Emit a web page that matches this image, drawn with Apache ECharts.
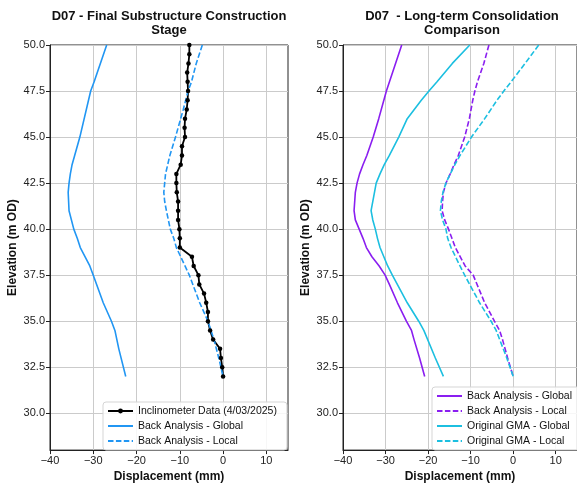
<!DOCTYPE html>
<html>
<head>
<meta charset="utf-8">
<script src="https://cdn.jsdelivr.net/npm/echarts@6/dist/echarts.min.js"></script>
<style>html,body{margin:0;padding:0;background:#fff}#c{width:577px;height:488px}</style>
</head>
<body>
<div id="c"></div>
<script>
// ---- Data (displacement in mm, elevation in m OD) ----
var yTicks = [30, 32.5, 35, 37.5, 40, 42.5, 45, 47.5, 50];
var xTicks = [-40, -30, -20, -10, 0, 10];

// Left panel: Final Substructure Construction Stage
var incElev = [50, 49.5, 49, 48.5, 48, 47.5, 47, 46.5, 46, 45.5, 45, 44.5, 44, 43.5, 43, 42.5, 42, 41.5, 41, 40.5, 40, 39.5, 39, 38.5, 38, 37.5, 37, 36.5, 36, 35.5, 35, 34.5, 34, 33.5, 33, 32.5, 32];
var incDisp = [-7.8, -7.8, -8.0, -8.3, -8.2, -8.1, -8.2, -8.4, -8.8, -8.9, -8.8, -9.5, -9.5, -9.8, -10.8, -10.8, -10.7, -10.4, -10.4, -10.4, -10.1, -10.0, -10.0, -7.2, -6.8, -5.7, -5.5, -4.4, -3.9, -3.5, -3.5, -3.0, -2.3, -0.7, -0.5, -0.2, 0.0];

var leftGlobalElev = [50, 48, 47.5, 45, 44, 43.5, 43, 42.5, 42, 41, 40, 39.5, 39, 38, 37.5, 36, 35, 34.5, 33.5, 32];
var leftGlobalDisp = [-26.9, -29.8, -30.6, -33.1, -34.3, -34.9, -35.3, -35.6, -35.8, -35.6, -34.5, -33.7, -33.0, -30.8, -30.0, -27.7, -25.8, -25.0, -24.1, -22.5];

var leftLocalElev = [50, 49, 48, 47.5, 46.5, 45, 44, 43.5, 43, 42.5, 42, 41.5, 41, 40, 39.5, 39, 38, 37.5, 36, 35, 34, 33, 32];
var leftLocalDisp = [-4.8, -6.2, -7.3, -8.1, -9.2, -11.0, -12.3, -12.8, -13.3, -13.5, -13.7, -13.5, -13.1, -12.2, -11.4, -10.8, -8.8, -7.8, -5.4, -3.5, -2.1, -1.0, 0.0];

// Right panel: Long-term Consolidation Comparison
var baGlobalElev = [50, 47.5, 46, 45, 44, 43.5, 43, 42.5, 42, 41, 40.5, 40, 39.5, 39, 38.5, 38, 37.5, 37, 36, 35, 34.5, 34, 33, 32];
var baGlobalDisp = [-26.2, -29.8, -31.6, -32.9, -34.4, -35.3, -36.1, -36.7, -37.1, -37.4, -37.1, -36.2, -35.3, -34.5, -33.2, -31.5, -30.1, -29.1, -27.2, -25.1, -23.9, -23.3, -22.0, -20.8];

var baLocalElev = [50, 49, 48, 47.5, 47, 46, 45, 44, 43.5, 43, 42.5, 42, 41.5, 41, 40.5, 40, 39.5, 39, 38, 37.5, 36, 35, 34.5, 34, 33, 32];
var baLocalDisp = [-5.7, -6.9, -8.4, -9.0, -9.5, -10.3, -11.4, -12.9, -13.9, -14.8, -15.8, -16.4, -16.6, -16.7, -16.1, -15.2, -14.4, -13.6, -11.3, -9.4, -6.7, -4.4, -3.2, -2.5, -1.3, 0.0];

var gmaGlobalElev = [50, 49, 48, 47.5, 47, 46, 45, 44, 43.5, 43, 42.5, 42, 41, 40.5, 40, 39.5, 39, 38, 37.5, 36, 35, 34.5, 33, 32];
var gmaGlobalDisp = [-10.2, -14.3, -17.9, -19.8, -21.6, -24.9, -26.9, -29.1, -30.3, -31.3, -32.2, -32.6, -33.4, -33.0, -32.4, -31.9, -31.3, -29.5, -28.4, -24.9, -22.2, -21.0, -18.3, -16.4];

var gmaLocalElev = [50, 49, 48, 47.5, 47, 46, 45, 44, 43.5, 43, 42.5, 42, 41.5, 41, 40.5, 40, 39.5, 39, 38, 37.5, 36, 35, 34.5, 33, 32];
var gmaLocalDisp = [6.0, 2.8, -0.5, -2.2, -3.8, -6.7, -9.8, -12.5, -13.7, -14.8, -15.8, -16.5, -16.9, -17.1, -16.6, -15.8, -15.4, -14.6, -12.5, -11.4, -7.9, -5.2, -4.0, -1.5, 0.0];

var titles = ['D07 - Final Substructure Construction\nStage', 'D07  - Long-term Consolidation\nComparison'];
var xName = 'Displacement (mm)';
var yName = 'Elevation (m OD)';

// ---- Styling ----
var FONT = 'Liberation Sans, Arial, Helvetica, sans-serif';
var BLUE = '#2196f3';
var PURPLE = '#8a1ef0';
var CYAN = '#1cbfe0';
var DASH = [5.5, 2.4];

function pairs(xs, ys) { return xs.map(function (x, i) { return [x, ys[i]]; }); }

function xAxis(gi) {
  return {
    type: 'value', gridIndex: gi, min: -40, max: 15, interval: 10,
    name: xName, nameLocation: 'middle', nameGap: 19,
    nameTextStyle: { fontFamily: FONT, fontWeight: 'bold', fontSize: 12, color: '#111' },
    axisLine: { show: true, onZero: false, lineStyle: { color: '#222', width: 1 } },
    axisTick: { show: true, length: 4, customValues: xTicks, lineStyle: { color: '#222' } },
    axisLabel: { customValues: xTicks, fontFamily: FONT, fontSize: 11, color: '#222', margin: 5,
      formatter: function (v) {
        var n = Number(v);
        if (!(n <= xTicks[xTicks.length - 1] + 0.01)) return '';
        return n < 0 ? '\u2212' + Math.abs(n) : String(n);
      } },
    splitLine: { show: true, lineStyle: { color: '#cbcbcb', width: 1 } }
  };
}
function yAxis(gi) {
  return {
    type: 'value', gridIndex: gi, min: 28, max: 50,
    name: yName, nameLocation: 'middle', nameGap: 31, nameRotate: 90,
    nameTextStyle: { fontFamily: FONT, fontWeight: 'bold', fontSize: 12, color: '#111' },
    axisLine: { show: true, onZero: false, lineStyle: { color: '#222', width: 1 } },
    axisTick: { show: true, length: 4, customValues: yTicks, lineStyle: { color: '#222' } },
    axisLabel: { customValues: yTicks, fontFamily: FONT, fontSize: 11, color: '#222', margin: 5,
      formatter: function (v) { var n = Number(v); return n < 29.9 ? '' : n.toFixed(1); } },
    splitLine: { show: true, lineStyle: { color: '#cbcbcb', width: 1 } }
  };
}
function line(name, gi, data, color, dashed, extra) {
  var s = {
    name: name, type: 'line', xAxisIndex: gi, yAxisIndex: gi, data: data,
    showSymbol: false, symbol: 'none', smooth: false, animation: false,
    lineStyle: { color: color, width: 1.6, type: dashed ? DASH : 'solid' },
    itemStyle: { color: color }
  };
  if (extra) for (var k in extra) s[k] = extra[k];
  return s;
}
function plainItem(name) { return { name: name, itemStyle: { opacity: 0 } }; }
function legendBase(left, top, padRight, items) {
  return {
    left: left, top: top, orient: 'vertical', selectedMode: false,
    data: items,
    itemWidth: 25, itemHeight: 6, itemGap: 3, padding: [3, padRight, 3, 4],
    borderColor: '#d5d5d5', borderWidth: 1, borderRadius: 3, backgroundColor: 'rgba(255,255,255,0.85)',
    textStyle: { fontFamily: FONT, fontSize: 10.5, color: '#111', lineHeight: 12 }
  };
}

var chart = echarts.init(document.getElementById('c'), null, { renderer: 'canvas' });
chart.setOption({
  animation: false,
  backgroundColor: '#fff',
  textStyle: { fontFamily: FONT },
  grid: [
    { left: 50, top: 45, width: 238, height: 410, show: true, borderColor: '#222', borderWidth: 1, backgroundColor: 'transparent' },
    { left: 343, top: 45, width: 238, height: 410, show: true, borderColor: '#222', borderWidth: 1, backgroundColor: 'transparent' }
  ],
  xAxis: [xAxis(0), xAxis(1)],
  yAxis: [yAxis(0), yAxis(1)],
  graphic: [
    { type: 'text', x: 169, y: 9, style: { text: titles[0], textAlign: 'center', textVerticalAlign: 'top', font: 'bold 13px ' + FONT, lineHeight: 14, fill: '#111' } },
    { type: 'text', x: 462, y: 9, style: { text: titles[1], textAlign: 'center', textVerticalAlign: 'top', font: 'bold 13px ' + FONT, lineHeight: 14, fill: '#111' } }
  ],
  legend: [
    legendBase(103, 402, 10, [
      { name: 'Inclinometer Data (4/03/2025)' },
      plainItem('Back Analysis - Global'),
      plainItem('Back Analysis - Local')
    ]),
    legendBase(432, 387, 5, [
      plainItem('Back Analysis - Global '),
      plainItem('Back Analysis - Local '),
      plainItem('Original GMA - Global'),
      plainItem('Original GMA - Local')
    ])
  ],
  series: [
    line('Inclinometer Data (4/03/2025)', 0, pairs(incDisp, incElev), '#000', false,
      { showSymbol: true, symbol: 'circle', symbolSize: 4.5, lineStyle: { color: '#000', width: 1.8 } }),
    line('Back Analysis - Global', 0, pairs(leftGlobalDisp, leftGlobalElev), BLUE, false),
    line('Back Analysis - Local', 0, pairs(leftLocalDisp, leftLocalElev), BLUE, true),
    line('Back Analysis - Global ', 1, pairs(baGlobalDisp, baGlobalElev), PURPLE, false),
    line('Back Analysis - Local ', 1, pairs(baLocalDisp, baLocalElev), PURPLE, true),
    line('Original GMA - Global', 1, pairs(gmaGlobalDisp, gmaGlobalElev), CYAN, false),
    line('Original GMA - Local', 1, pairs(gmaLocalDisp, gmaLocalElev), CYAN, true)
  ]
});
</script>
</body>
</html>
